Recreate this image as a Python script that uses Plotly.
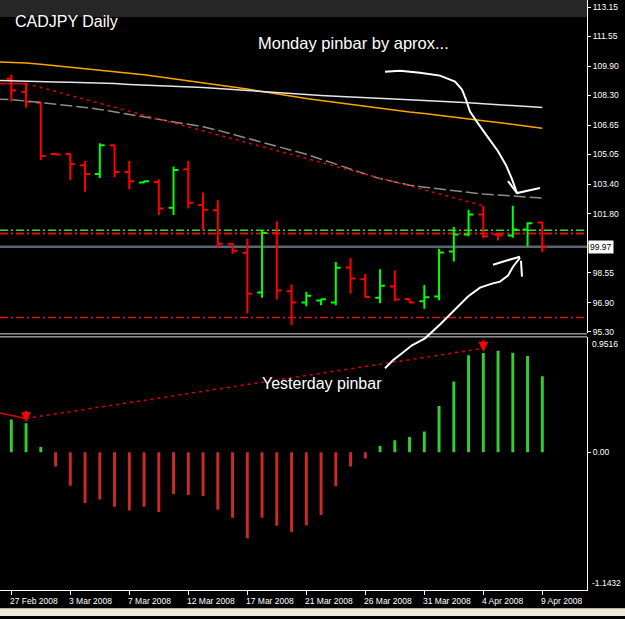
import plotly.graph_objects as go

# ---------------- data ----------------
tick_labels = ["27 Feb 2008", "3 Mar 2008", "7 Mar 2008", "12 Mar 2008", "17 Mar 2008",
               "21 Mar 2008", "26 Mar 2008", "31 Mar 2008", "4 Apr 2008", "9 Apr 2008"]
tick_bars = [0, 4, 8, 12, 16, 20, 24, 28, 32, 36]

bar_index = list(range(37))
opens = [109.22, 108.50, 107.89, 105.08, 105.08, 104.46, 103.98, 105.55, 104.09, 103.50,
         103.54, 102.12, 104.24, 102.27, 101.98, 100.13, 99.64, 97.45, 100.73, 97.52,
         96.90, 97.01, 96.90, 98.83, 98.18, 97.17, 97.78, 97.10, 96.97, 97.23,
         99.71, 100.64, 101.74, 100.64, 100.59, 100.92, 101.30]
highs = [109.44, 108.95, 107.95, 105.13, 105.10, 104.69, 105.66, 105.57, 104.69, 103.60,
         103.69, 104.39, 104.69, 102.96, 102.53, 100.17, 100.41, 100.86, 101.38, 97.90,
         97.49, 97.10, 99.13, 99.35, 98.47, 98.73, 98.67, 97.10, 97.87, 99.86,
         101.06, 102.01, 102.23, 100.66, 102.23, 101.32, 101.35]
lows = [107.96, 107.64, 104.75, 105.04, 103.65, 103.00, 103.76, 103.79, 103.14, 103.48,
        101.72, 101.72, 102.07, 100.86, 99.91, 99.58, 96.30, 97.16, 97.07, 95.66,
        96.70, 96.75, 96.75, 97.39, 97.16, 96.86, 96.97, 96.89, 96.56, 97.03,
        99.16, 100.55, 100.44, 100.31, 100.46, 99.98, 99.68]
closes = [108.57, 107.95, 104.97, 105.05, 104.51, 103.98, 105.55, 104.09, 103.58, 103.58,
          102.07, 104.20, 102.39, 102.01, 100.13, 99.75, 97.39, 100.73, 97.56, 96.90,
          97.27, 97.08, 98.82, 98.22, 97.21, 97.83, 97.07, 96.90, 97.19, 99.66,
          100.64, 101.74, 100.55, 100.61, 100.92, 101.27, 99.97]

ma_index = list(range(-1, 37))
ma_orange = [110.15, 110.13, 110.08, 110.02, 109.94, 109.85, 109.77, 109.69, 109.61, 109.52,
             109.44, 109.33, 109.22, 109.11, 109.00, 108.90, 108.79, 108.65, 108.51, 108.37,
             108.24, 108.13, 108.02, 107.91, 107.80, 107.69, 107.58, 107.47, 107.39, 107.31,
             107.20, 107.11, 107.01, 106.90, 106.81, 106.70, 106.60, 106.49]
ma_white = [109.12, 109.11, 109.09, 109.06, 109.04, 109.02, 109.00, 108.99, 108.95, 108.90,
            108.87, 108.84, 108.81, 108.79, 108.73, 108.68, 108.62, 108.57, 108.51, 108.46,
            108.40, 108.35, 108.29, 108.25, 108.22, 108.18, 108.13, 108.09, 108.06, 108.02,
            107.96, 107.93, 107.89, 107.85, 107.80, 107.75, 107.69, 107.64]
ma_grey = [108.10, 108.07, 107.99, 107.91, 107.83, 107.75, 107.64, 107.53, 107.39, 107.28,
           107.14, 107.01, 106.87, 106.73, 106.57, 106.38, 106.16, 105.94, 105.72, 105.50,
           105.28, 105.06, 104.79, 104.51, 104.24, 103.97, 103.72, 103.53, 103.36, 103.25,
           103.15, 103.04, 102.95, 102.87, 102.82, 102.76, 102.71, 102.65]

osc = [0.271, 0.239, 0.043, -0.119, -0.279, -0.421, -0.393, -0.453, -0.483, -0.453,
       -0.496, -0.347, -0.355, -0.364, -0.477, -0.543, -0.714, -0.543, -0.610, -0.662,
       -0.605, -0.521, -0.282, -0.119, -0.052, 0.052, 0.098, 0.125, 0.171, 0.383,
       0.586, 0.803, 0.822, 0.841, 0.825, 0.798, 0.629]

price_ticks = [113.15, 111.55, 109.90, 108.30, 106.65, 105.05, 103.40, 101.80, 100.15,
               98.55, 96.90, 95.30]
hidden_tick = 100.15  # covered by the last-price box in the reference
last_price = 99.97
level_green = 100.88
level_red_hi = 100.70
level_red_lo = 96.08

trend_bars = [1, 32]
trend_vals = [108.95, 102.23]
prev_trend_bars = [-1, 1]
prev_trend_vals = [108.95, 108.95]

div_bars = [1, 32]
div_vals = [0.28, 0.86]
prev_div_bars = [-1, 1]
prev_div_vals = [0.33, 0.28]
arrow_bars = [1, 32]

osc_max, osc_min = 0.9516, -1.1432

# ---------------- geometry helpers ----------------
W, H = 625, 619
def px(x):
    return x / W
def py(y):
    return 1 - y / H

AXF = "Liberation Sans, Arial, sans-serif"
x_rng = [-0.766, 39.03]
plot_right = px(587)

fig = go.Figure()

# moving averages
fig.add_trace(go.Scatter(x=ma_index, y=ma_orange, mode="lines",
                         line=dict(color="#ffa500", width=1.5), hoverinfo="skip"))
fig.add_trace(go.Scatter(x=ma_index, y=ma_white, mode="lines",
                         line=dict(color="#e6e6e6", width=1.5), hoverinfo="skip"))
fig.add_trace(go.Scatter(x=ma_index, y=ma_grey, mode="lines",
                         line=dict(color="#8c8c8c", width=1.5, dash="12px,4px"), hoverinfo="skip"))
# trend lines
fig.add_trace(go.Scatter(x=prev_trend_bars, y=prev_trend_vals, mode="lines",
                         line=dict(color="#e00000", width=1.5), hoverinfo="skip"))
fig.add_trace(go.Scatter(x=trend_bars, y=trend_vals, mode="lines",
                         line=dict(color="#e00000", width=1.5, dash="3px,4px"), hoverinfo="skip"))
# price bars
fig.add_trace(go.Ohlc(x=bar_index, open=opens, high=highs, low=lows, close=closes,
                      increasing=dict(line=dict(color="#00ff00", width=2)),
                      decreasing=dict(line=dict(color="#ff0000", width=2)),
                      tickwidth=0.33, hoverinfo="skip", xaxis="x", yaxis="y"))

# oscillator
osc_colors = ["#33cc33" if v >= 0 else "#cc2929" for v in osc]
fig.add_trace(go.Bar(x=bar_index, y=osc, marker=dict(color=osc_colors, line=dict(width=0)),
                     width=0.2, xaxis="x2", yaxis="y2", hoverinfo="skip"))
fig.add_trace(go.Scatter(x=prev_div_bars, y=prev_div_vals, mode="lines", xaxis="x2", yaxis="y2",
                         line=dict(color="#e00000", width=1.5), hoverinfo="skip"))
fig.add_trace(go.Scatter(x=div_bars, y=div_vals, mode="lines", xaxis="x2", yaxis="y2",
                         line=dict(color="#e00000", width=1.5, dash="3px,4px"), hoverinfo="skip"))

shapes = []
# horizontal levels
for lvl, col, dash, w in [(level_green, "#33dd33", "8px,3px,2px,3px", 1.5),
                          (level_red_hi, "#dd1111", "8px,3px,2px,3px", 1.8),
                          (level_red_lo, "#dd1111", "8px,3px,2px,3px", 1.5)]:
    shapes.append(dict(type="line", xref="x domain", yref="y", x0=0, x1=1, y0=lvl, y1=lvl,
                       line=dict(color=col, width=w, dash=dash), layer="below"))
shapes.append(dict(type="line", xref="x domain", yref="y", x0=0, x1=1, y0=last_price, y1=last_price,
                   line=dict(color="#5b6472", width=2.5), layer="below"))
# header band
shapes.append(dict(type="rect", xref="paper", yref="paper", x0=0, x1=plot_right, y0=py(17), y1=1,
                   fillcolor="#262626", line=dict(width=0), layer="below"))
# pane separators
for yy in (335.5, 338.5):
    shapes.append(dict(type="line", xref="paper", yref="paper", x0=0, x1=plot_right,
                       y0=py(yy), y1=py(yy), line=dict(color="#d8d8d8", width=1)))
# window bottom frame
shapes.append(dict(type="rect", xref="paper", yref="paper", x0=0, x1=1, y0=0, y1=py(611.5),
                   fillcolor="#ece9d8", line=dict(width=0)))
shapes.append(dict(type="line", xref="paper", yref="paper", x0=0, x1=1, y0=py(611.5), y1=py(611.5),
                   line=dict(color="#b8b4a8", width=1)))

# hand-drawn arrows
def path_from(pts):
    return "M " + " L ".join(f"{px(x):.5f},{py(y):.5f}" for x, y in pts)

hand = [
    [(385, 72), (400, 71), (420, 73), (440, 76), (455, 82), (462, 90), (466, 100), (470, 112),
     (478, 124), (488, 138), (498, 152), (506, 166), (512, 180), (517, 194)],
    [(508, 182), (517, 194), (540, 189)],
    [(385, 370), (393, 362), (402, 355), (412, 347), (425, 340), (440, 326), (455, 311), (468, 298),
     (480, 289), (492, 285), (500, 283), (508, 277), (513, 268), (520, 259)],
    [(493, 266), (506, 262), (520, 258)],
    [(521, 262), (522, 278)],
]
for pts in hand:
    shapes.append(dict(type="path", xref="paper", yref="paper", path=path_from(pts),
                       line=dict(color="#ffffff", width=2)))

annotations = []
annotations.append(dict(text="CADJPY Daily", xref="paper", yref="paper", x=px(13), y=py(22),
                        xanchor="left", yanchor="middle", showarrow=False,
                        font=dict(family=AXF, size=16, color="#ffffff")))
annotations.append(dict(text="Monday pinbar by aprox...", xref="paper", yref="paper", x=px(256),
                        y=py(43), xanchor="left", yanchor="middle", showarrow=False,
                        font=dict(family=AXF, size=16.5, color="#ffffff")))
annotations.append(dict(text="Yesterday pinbar", xref="paper", yref="paper", x=px(260), y=py(385),
                        xanchor="left", yanchor="middle", showarrow=False,
                        font=dict(family=AXF, size=16, color="#ffffff")))
# last price box
annotations.append(dict(text=f"{last_price:.2f}", xref="paper", yref="y", x=px(588), y=last_price,
                        xanchor="left", yanchor="middle", showarrow=False, bgcolor="#ffffff",
                        borderpad=1, font=dict(family=AXF, size=8.5, color="#000000")))
# oscillator scale extremes
annotations.append(dict(text=f"{osc_max:.4f}", xref="paper", yref="y2", x=px(590), y=osc_max,
                        xanchor="left", yanchor="top", showarrow=False,
                        font=dict(family=AXF, size=8.5, color="#ffffff")))
annotations.append(dict(text=f"{osc_min:.4f}", xref="paper", yref="y2", x=px(590), y=osc_min,
                        xanchor="left", yanchor="bottom", showarrow=False,
                        font=dict(family=AXF, size=8.5, color="#ffffff")))
# divergence arrows
for b in arrow_bars:
    annotations.append(dict(text="", xref="x2", yref="y2", x=b, y=osc[b] + 0.01, ax=0, ay=-13,
                            showarrow=True, arrowhead=2, arrowsize=1, arrowwidth=2,
                            arrowcolor="#ff0000"))
# date labels
for b, lab in zip(tick_bars, tick_labels):
    annotations.append(dict(text=lab, xref="x2", yref="paper", x=b, y=py(604), xanchor="left",
                            yanchor="middle", xshift=-3, showarrow=False,
                            font=dict(family=AXF, size=8.5, color="#ffffff")))

fig.update_layout(
    width=W, height=H, margin=dict(l=0, r=0, t=0, b=0),
    paper_bgcolor="#000000", plot_bgcolor="rgba(0,0,0,0)", showlegend=False,
    xaxis=dict(domain=[0, plot_right], range=x_rng, anchor="y", showticklabels=False,
               showgrid=False, zeroline=False, showline=False, ticks="",
               rangeslider=dict(visible=False)),
    yaxis=dict(domain=[py(335), 1], range=[95.204, 113.55], side="right", anchor="x",
               showline=True, linecolor="#ffffff", linewidth=1, ticks="outside", ticklen=3,
               tickcolor="#ffffff", tickvals=price_ticks,
               ticktext=["" if v == hidden_tick else f"{v:.2f}" for v in price_ticks],
               tickfont=dict(family=AXF, size=8.5, color="#ffffff"),
               showgrid=False, zeroline=False),
    xaxis2=dict(domain=[0, plot_right], range=x_rng, anchor="y2", showticklabels=False,
                showgrid=False, zeroline=False, showline=True, linecolor="#ffffff",
                ticks="outside", ticklen=4, tickcolor="#ffffff", tickvals=tick_bars),
    yaxis2=dict(domain=[py(593), py(339)], range=[osc_min, osc_max], side="right", anchor="x2",
                showline=True, linecolor="#ffffff", ticks="outside", ticklen=3,
                tickcolor="#ffffff", tickvals=[0], ticktext=["0.00"],
                tickfont=dict(family=AXF, size=8.5, color="#ffffff"),
                showgrid=False, zeroline=False),
    shapes=shapes, annotations=annotations,
)

fig.write_html("out.html")
